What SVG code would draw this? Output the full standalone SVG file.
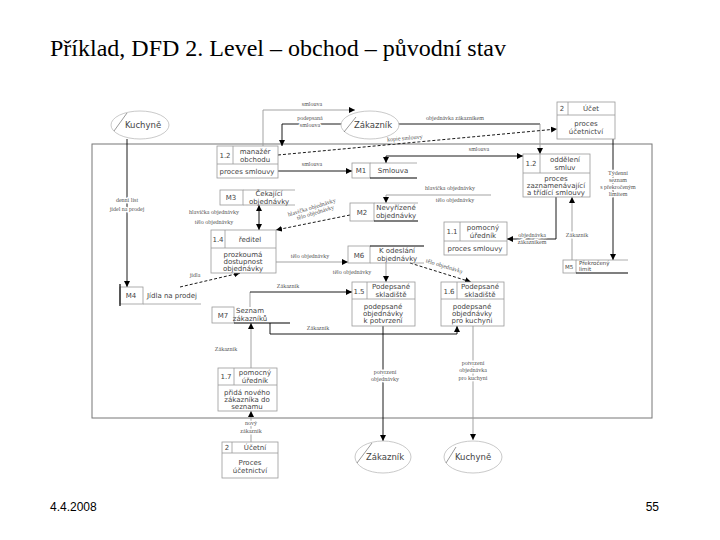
<svg xmlns="http://www.w3.org/2000/svg" width="720" height="540" viewBox="0 0 720 540">
<defs>
<marker id="a" viewBox="0 0 6 6" refX="6" refY="3" markerWidth="6" markerHeight="6" markerUnits="userSpaceOnUse" orient="auto-start-reverse"><path d="M0,0 L6,3 L0,6 z" fill="#000"/></marker>
<style>
.box{fill:#fff;stroke:#999;stroke-width:0.8}
.sg{fill:none;stroke:#999;stroke-width:0.8}
.sb{fill:none;stroke:#000;stroke-width:1.2}
.t{font-family:"DejaVu Sans",sans-serif;font-size:7px;fill:#444;text-anchor:middle}
.ts{font-family:"DejaVu Sans",sans-serif;font-size:5.5px;fill:#444}
.e{font-family:"DejaVu Sans",sans-serif;font-size:8.5px;fill:#444;text-anchor:middle}
.l{font-family:"Liberation Serif",serif;font-size:6px;fill:#555;text-anchor:middle;stroke:#fff;stroke-width:2.5;paint-order:stroke}
.k{fill:none;stroke:#000;stroke-width:0.9}
.g{fill:none;stroke:#999;stroke-width:0.9}
.d{stroke-dasharray:3 2}
.ell{fill:#fff;stroke:#bbb;stroke-width:0.8}
</style>
</defs>
<rect width="720" height="540" fill="#fff"/>
<text x="50" y="56" font-family="Liberation Serif, serif" font-size="24px" fill="#000">Příklad, DFD 2. Level – obchod – původní stav</text>
<rect x="92" y="144" width="560" height="274" fill="none" stroke="#777" stroke-width="1"/>

<g id="connectors">
<path class="g" d="M263,146 V110 H355" stroke-width="1.4" marker-end="url(#a)"/>
<path class="k" d="M342,124 H282 V146" marker-end="url(#a)"/>
<path class="k" d="M398,124 H540"/>
<path class="g" d="M540,124 V154" marker-end="url(#a)"/>
<path class="k d" d="M278,155 L557,129" marker-end="url(#a)"/>
<path class="k" d="M278,171 H352" marker-end="url(#a)"/>
<path class="k" d="M386,163 V156 H523" marker-start="url(#a)" marker-end="url(#a)"/>
<path class="g" d="M491,195 H386 V203" marker-end="url(#a)"/>
<path class="k d" d="M350,215 L276,230" marker-end="url(#a)"/>
<path class="k" d="M259,205 V230" marker-start="url(#a)" marker-end="url(#a)"/>
<path class="g" d="M276,262 H348" marker-end="url(#a)"/>
<path class="g" d="M386,263 V282" marker-end="url(#a)"/>
<path class="k d" d="M410,263 L471,282" marker-end="url(#a)"/>
<path class="g" d="M250,307 V292"/>
<path class="k" d="M250,292 H352" marker-end="url(#a)"/>
<path class="k" d="M270,323 V334 H457 V326" marker-end="url(#a)"/>
<path class="g" d="M251,368 V323" marker-end="url(#a)"/>
<path class="g" d="M251,442 V411" marker-end="url(#a)"/>
<path class="k" d="M383,326 V441" marker-end="url(#a)"/>
<path class="g" d="M473,326 V440" marker-end="url(#a)"/>
<path class="k" d="M127,139 V287" marker-end="url(#a)"/>
<path class="k d" d="M180,287 L240,273" marker-end="url(#a)"/>
<path class="k" d="M613,139 V260" stroke-width="0.7" marker-end="url(#a)"/>
<path class="g" d="M572,260 V197" stroke-width="1.2" marker-end="url(#a)"/>
<path class="k" d="M556,197 V239 H507" marker-end="url(#a)"/>

<text class="l" x="312" y="106">smlouva</text>
<text class="l" x="310" y="120">podepsaná</text>
<text class="l" x="310" y="127">smlouva</text>
<text class="l" x="455" y="120">objednávka zákazníkem</text>
<text class="l" transform="translate(405,140) rotate(-5)">kopie smlouvy</text>
<text class="l" x="312" y="166">smlouva</text>
<text class="l" x="479" y="151">smlouva</text>
<text class="l" x="450" y="190">hlavička objednávky</text>
<text class="l" x="455" y="202">tělo objednávky</text>
<g transform="translate(314,215) rotate(-17)">
<text class="l" x="0" y="-6">hlavička objednávky</text>
<text class="l" x="2" y="0">tělo objednávky</text>
</g>
<text class="l" x="214" y="214">hlavička objednávky</text>
<text class="l" x="214" y="224">tělo objednávky</text>
<text class="l" x="310" y="258">tělo objednávky</text>
<text class="l" x="352" y="274">tělo objednávky</text>
<text class="l" transform="translate(444,268) rotate(17)">tělo objednávky</text>
<text class="l" x="288" y="288">Zákazník</text>
<text class="l" x="318" y="330">Zákazník</text>
<text class="l" x="226" y="351">Zákazník</text>
<text class="l" x="251" y="425">nový</text>
<text class="l" x="251" y="433">zákazník</text>
<text class="l" x="385" y="374">potvrzení</text>
<text class="l" x="385" y="381">objednávky</text>
<text class="l" x="473" y="365">potvrzení</text>
<text class="l" x="473" y="372">objednávka</text>
<text class="l" x="473" y="380">pro kuchyni</text>
<text class="l" x="127" y="202">denní list</text>
<text class="l" x="127" y="211">jídel na prodej</text>
<text class="l" x="195" y="277">jídla</text>
<text class="l" x="618" y="175">Týdenní</text>
<text class="l" x="618" y="182">seznam</text>
<text class="l" x="618" y="189">s překročeným</text>
<text class="l" x="618" y="196">limitem</text>
<text class="l" x="577" y="237">Zákazník</text>
<text class="l" x="532" y="237">objednávka</text>
<text class="l" x="532" y="244">zákazníkem</text>
</g>

<g id="ext-kuchyne-top">
<ellipse class="ell" cx="140" cy="125" rx="29" ry="14"/>
<line x1="114" y1="131" x2="127" y2="113" stroke="#555" stroke-width="0.6"/>
<text class="e" x="143" y="128">Kuchyně</text>
</g>
<g id="ext-zakaznik-top">
<ellipse class="ell" cx="370" cy="125" rx="29" ry="14"/>
<line x1="344" y1="132" x2="356" y2="117" stroke="#555" stroke-width="0.6"/>
<text class="e" x="373" y="128">Zákazník</text>
</g>
<g id="ext-zakaznik-bottom">
<ellipse class="ell" cx="383" cy="457" rx="28" ry="16"/>
<line x1="357" y1="463" x2="372" y2="443" stroke="#555" stroke-width="0.6"/>
<text class="e" x="385" y="460">Zákazník</text>
</g>
<g id="ext-kuchyne-bottom">
<ellipse class="ell" cx="473" cy="457" rx="29" ry="16"/>
<line x1="446" y1="463" x2="456" y2="447" stroke="#555" stroke-width="0.6"/>
<text class="e" x="473" y="460">Kuchyně</text>
</g>

<g id="p-1-2-manazer">
<rect class="box" x="217" y="146" width="61" height="32"/>
<path class="sg" d="M217,164 H278 M233,146 V164"/>
<text class="t" x="225" y="158">1.2</text>
<text class="t" x="255" y="154">manažér</text>
<text class="t" x="255" y="162">obchodu</text>
<text class="t" x="247" y="174">proces smlouvy</text>
</g>
<g id="p-1-2-oddeleni">
<rect class="box" x="523" y="154" width="67" height="43"/>
<path class="sg" d="M523,173 H590 M540,154 V173"/>
<text class="t" x="531" y="166">1.2</text>
<text class="t" x="565" y="162">oddělení</text>
<text class="t" x="565" y="170">smluv</text>
<text class="t" x="556" y="181">proces</text>
<text class="t" x="556" y="188">zaznamenávající</text>
<text class="t" x="556" y="195">a třídící smlouvy</text>
</g>
<g id="p-2-ucet">
<rect class="box" x="557" y="102" width="58" height="37"/>
<path class="sg" d="M557,115 H615 M568,102 V115"/>
<text class="t" x="562" y="111">2</text>
<text class="t" x="591" y="111">Účet</text>
<text class="t" x="586" y="126">proces</text>
<text class="t" x="586" y="134">účetnictví</text>
</g>
<g id="p-1-1">
<rect class="box" x="444" y="222" width="63" height="33"/>
<path class="sg" d="M444,241 H507 M460,222 V241"/>
<text class="t" x="452" y="234">1.1</text>
<text class="t" x="483" y="230">pomocný</text>
<text class="t" x="483" y="238">úředník</text>
<text class="t" x="475" y="251">proces smlouvy</text>
</g>
<g id="p-1-4">
<rect class="box" x="211" y="230" width="65" height="43"/>
<path class="sg" d="M211,248 H276 M225,230 V248"/>
<text class="t" x="218" y="242">1.4</text>
<text class="t" x="250" y="242">ředitel</text>
<text class="t" x="243" y="257">prozkoumá</text>
<text class="t" x="243" y="264">dostupnost</text>
<text class="t" x="243" y="271">objednávky</text>
</g>
<g id="p-1-5">
<rect class="box" x="352" y="282" width="63" height="44"/>
<path class="sg" d="M352,299 H415 M367,282 V299"/>
<text class="t" x="359" y="294">1.5</text>
<text class="t" x="391" y="289">Podepsané</text>
<text class="t" x="391" y="297">skladiště</text>
<text class="t" x="383" y="309">podepsané</text>
<text class="t" x="383" y="316">objednávky</text>
<text class="t" x="383" y="323">k potvrzení</text>
</g>
<g id="p-1-6">
<rect class="box" x="441" y="282" width="63" height="44"/>
<path class="sg" d="M441,299 H504 M457,282 V299"/>
<text class="t" x="449" y="294">1.6</text>
<text class="t" x="480" y="289">Podepsané</text>
<text class="t" x="480" y="297">skladiště</text>
<text class="t" x="472" y="309">podepsané</text>
<text class="t" x="472" y="316">objednávky</text>
<text class="t" x="472" y="323">pro kuchyni</text>
</g>
<g id="p-1-7">
<rect class="box" x="218" y="368" width="59" height="43"/>
<path class="sg" d="M218,385 H277 M234,368 V385"/>
<text class="t" x="226" y="379">1.7</text>
<text class="t" x="255" y="375">pomocný</text>
<text class="t" x="255" y="383">úředník</text>
<text class="t" x="247" y="395">přidá nového</text>
<text class="t" x="247" y="402">zákazníka do</text>
<text class="t" x="247" y="409">seznamu</text>
</g>
<g id="p-2-ucetni">
<rect class="box" x="222" y="442" width="56" height="36"/>
<path class="sg" d="M222,453 H278 M232,442 V453"/>
<text class="t" x="227" y="450">2</text>
<text class="t" x="255" y="450">Účetní</text>
<text class="t" x="250" y="465">Proces</text>
<text class="t" x="250" y="473">účetnictví</text>
</g>

<g id="m1">
<rect class="box" x="352" y="163" width="18" height="15"/>
<path class="sg" d="M370,163 H417"/>
<path class="sb" d="M370,178 H417"/>
<text class="t" x="361" y="173">M1</text>
<text class="t" x="393" y="173">Smlouva</text>
</g>
<g id="m2">
<rect class="box" x="350" y="203" width="24" height="18"/>
<path class="sg" d="M374,203 H418"/>
<path class="sb" d="M374,221 H418"/>
<text class="t" x="362" y="215">M2</text>
<text class="t" x="396" y="210">Nevyřízené</text>
<text class="t" x="396" y="218">objednávky</text>
</g>
<g id="m3">
<rect class="box" x="220" y="190" width="23" height="15"/>
<path class="sg" d="M243,190 H295 M243,205 H295"/>
<text class="t" x="231" y="200">M3</text>
<text class="t" x="269" y="196">Čekající</text>
<text class="t" x="269" y="204">objednávky</text>
</g>
<g id="m4">
<rect class="box" x="120" y="287" width="23" height="17"/>
<path class="sb" d="M120,284 V306"/>
<path class="sg" d="M143,304 H201"/>
<text class="t" x="131" y="298">M4</text>
<text class="t" x="172" y="298">Jídla na prodej</text>
</g>
<g id="m5">
<rect class="box" x="563" y="260" width="13" height="13"/>
<path class="sg" d="M576,260 H628"/>
<path class="sb" d="M576,273 H628"/>
<text class="ts" x="565" y="269">M5</text>
<text class="ts" x="579" y="265">Překročený</text>
<text class="ts" x="579" y="271">limit</text>
</g>
<g id="m6">
<rect class="box" x="348" y="246" width="22" height="17"/>
<path class="sb" d="M370,246 H424"/>
<path class="sg" d="M370,263 H424"/>
<text class="t" x="359" y="258">M6</text>
<text class="t" x="397" y="253">K odeslání</text>
<text class="t" x="397" y="261">objednávky</text>
</g>
<g id="m7">
<rect class="box" x="212" y="307" width="22" height="16"/>
<path class="sb" d="M234,323 H290"/>
<text class="t" x="223" y="318">M7</text>
<text class="t" x="250" y="313">Seznam</text>
<text class="t" x="250" y="321">zákazníků</text>
</g>

<text x="50" y="511" font-family="Liberation Sans, sans-serif" font-size="12px" fill="#000">4.4.2008</text>
<text x="659" y="511" font-family="Liberation Sans, sans-serif" font-size="12px" fill="#000" text-anchor="end">55</text>
</svg>
